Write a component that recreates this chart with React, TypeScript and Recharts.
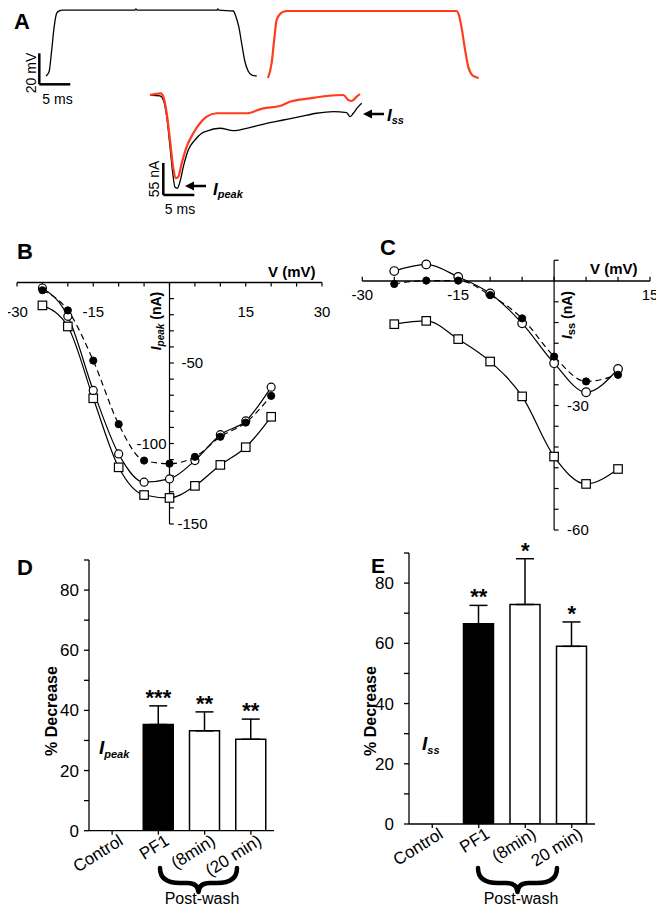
import React from "react";
import {
  Bar,
  BarChart,
  Cell,
  ErrorBar,
  Line,
  LineChart,
  ReferenceDot,
  ReferenceLine,
  XAxis,
  YAxis,
} from "recharts";

const FONT = '"Liberation Sans", Arial, Helvetica, sans-serif';
const RED = "#ff3c1e";
const INK = "#000";

// A: voltage steps (ms, mV) and evoked currents (ms, nA)
const vBlackT = [0, 0.48, 0.92, 1.29, 1.73, 2.26, 2.58, 14.35, 14.5, 14.7, 27.6, 27.7, 27.9, 30.2, 30.6, 31.1, 31.6, 32.1, 32.6, 33.2, 34.0];
const vBlackMv = [-49.0, -46.5, -32.3, -18.1, -8.4, -6.8, -6.5, -6.5, -5.8, -6.5, -6.5, -5.8, -6.5, -7.1, -10.3, -17.4, -29.0, -40.0, -45.8, -48.4, -49.0];
const vRedT = [35.8, 36.4, 36.8, 37.2, 38.0, 38.8, 66.2, 66.6, 67.0, 67.6, 68.1, 68.9, 69.8];
const vRedMv = [-50.3, -40.6, -25.8, -12.9, -8.2, -7.1, -7.1, -9.7, -17.2, -32.3, -43.0, -49.0, -50.3];
const iBlackT = [16.77, 18.39, 18.92, 19.47, 20.0, 20.44, 20.81, 21.18, 21.61, 22.15, 22.95, 24.03, 25.11, 26.18, 28.06, 30.21, 32.37, 35.6, 38.27, 40.97, 43.66, 46.34, 48.5, 49.03, 49.56, 50.37, 50.92];
const iBlackNa = [0, -1.7, -8.6, -37.3, -88.8, -134.5, -158.6, -160.3, -149.0, -123.2, -94.5, -77.3, -65.8, -61.3, -57.2, -61.3, -57.2, -48.6, -43.0, -37.3, -31.4, -28.7, -30.4, -37.3, -31.4, -20.1, -14.3];
const iRedT = [16.77, 18.5, 18.92, 19.47, 20.0, 20.53, 20.97, 21.34, 21.89, 22.69, 23.76, 24.84, 25.92, 27.53, 30.21, 32.37, 35.05, 37.74, 39.35, 42.58, 45.27, 47.95, 48.76, 49.31, 50.11, 50.65];
const iRedNa = [0, 2.9, -2.9, -31.4, -77.3, -125.9, -143.1, -140.4, -117.4, -88.8, -65.8, -48.6, -37.3, -31.4, -31.4, -31.4, -22.9, -18.9, -11.5, -5.7, -1.7, 0, -8.6, -10.3, -2.9, 1.7];

// B: I-V of peak current
const bVolts = [-25, -20, -15, -10, -5, 0, 5, 10, 15, 20];
const bOpen = [-3.4, -21, -67, -106.5, -124, -122, -110.6, -94.5, -86, -65];
const bFilled = [-4.8, -17.3, -48.5, -88, -110.6, -112.5, -108.3, -95.8, -87, -70.4];
const bSquare = [-14.2, -27.3, -71.9, -114.8, -132, -133.8, -126.3, -113.3, -102.3, -83.4];
const bXTicks = [-30, -25, -20, -15, -10, -5, 0, 5, 10, 15, 20, 25, 30];
const bXLabels = [-30, -15, 15, 30];
const bYTicks = [-10, -20, -30, -40, -50, -60, -70, -80, -90, -100, -110, -120, -130, -140, -150];

// C: I-V of steady-state current
const cVolts = [-25, -20, -15, -10, -5, 0, 5, 10];
const cOpen = [2.4, 4.0, 1.0, -3.0, -10.2, -19.8, -26.8, -21.2];
const cFilled = [-0.7, 0.1, 0.1, -3.4, -9.0, -18.2, -24.2, -22.6];
const cSquare = [-10.4, -9.6, -14.0, -19.4, -27.8, -42.3, -48.9, -45.3];
const cXTicks = [-30, -25, -20, -15, -10, -5, 0, 5, 10, 15];
const cXLabels = [-30, -15, 15];
const cYTicks = [5, -5, -10, -15, -20, -25, -30, -35, -40, -45, -50, -55, -60];

// D / E: % decrease
const dCats = ["Control", "PF1", "(8min)", "(20 min)"];
const dVals = [0, 35.3, 33.2, 30.4];
const dErr = [0, 6.2, 6.3, 6.7];
const dStars = ["", "***", "**", "**"];
const eCats = ["Control", "PF1", "(8min)", "20 min)"];
const eVals = [0, 66.5, 72.9, 59.0];
const eErr = [0, 6.1, 15.2, 8.1];
const eStars = ["", "**", "*", "*"];
const pctTicks = [0, 10, 20, 30, 40, 50, 60, 70, 80, 90];

const zip = (t: number[], y: number[], key: string) =>
  t.map((tt, i) => ({ t: tt, [key]: y[i] }));

const vBlack = zip(vBlackT, vBlackMv, "mv");
const vRed = zip(vRedT, vRedMv, "mv");
const iBlack = zip(iBlackT, iBlackNa, "na");
const iRed = zip(iRedT, iRedNa, "na");

const bRows = bVolts.map((v, i) => ({ v, open: bOpen[i], filled: bFilled[i], sq: bSquare[i] }));
const cRows = cVolts.map((v, i) => ({ v, open: cOpen[i], filled: cFilled[i], sq: cSquare[i] }));
const dRows = dCats.map((cat, i) => ({ cat, val: dVals[i], err: [0, dErr[i]] }));
const eRows = eCats.map((cat, i) => ({ cat, val: eVals[i], err: [0, eErr[i]] }));

function SquareDot(props: any) {
  const { cx, cy, index } = props;
  if (cx == null || cy == null) return <g key={`sq-${index}`} />;
  return (
    <rect
      key={`sq-${index}`}
      x={cx - 4.25}
      y={cy - 4.25}
      width={8.5}
      height={8.5}
      fill="#fff"
      stroke={INK}
      strokeWidth={1.2}
    />
  );
}

function CatTick(props: any) {
  const { x, y, payload } = props;
  return (
    <g transform={`translate(${x + 12},${y + 7})`}>
      <text textAnchor="end" transform="rotate(-32)" fontSize={17} fill={INK}>
        {payload.value}
      </text>
    </g>
  );
}

const seg = (x0: number, y0: number, x1: number, y1: number, key: string) => (
  <ReferenceLine
    key={key}
    segment={[
      { x: x0, y: y0 },
      { x: x1, y: y1 },
    ]}
    stroke={INK}
    strokeWidth={1.2}
  />
);

const tickLabel = (x: number, y: number, text: string, position: any, offset: number, key: string) => (
  <ReferenceDot
    key={key}
    x={x}
    y={y}
    r={1}
    fill="none"
    stroke="none"
    label={{ value: text, position, offset, fontSize: 15, fill: INK }}
  />
);

function BarPanel({
  rows,
  stars,
  width,
  height,
  yWidth,
  xHeight,
  tickMargin,
  margin,
}: {
  rows: any[];
  stars: string[];
  width: number;
  height: number;
  yWidth: number;
  xHeight: number;
  tickMargin: number;
  margin: any;
}) {
  return (
    <BarChart width={width} height={height} data={rows} margin={margin}>
      <XAxis
        dataKey="cat"
        stroke={INK}
        strokeWidth={1.3}
        tickSize={4}
        interval={0}
        height={xHeight}
        tick={<CatTick />}
      />
      <YAxis
        type="number"
        domain={[0, 90]}
        allowDataOverflow
        ticks={pctTicks}
        interval={0}
        width={yWidth}
        stroke={INK}
        strokeWidth={1.3}
        tickSize={5}
        tickMargin={tickMargin}
        tick={{ fill: INK, fontSize: 17 }}
        tickFormatter={(v) => (Number(v) % 20 === 0 ? String(v) : "")}
      />
      <Bar dataKey="val" barSize={30} stroke={INK} strokeWidth={1.5} isAnimationActive={false}>
        {rows.map((r, i) => (
          <Cell key={i} fill={r.cat === "PF1" ? INK : "#fff"} />
        ))}
        <ErrorBar dataKey="err" width={9} stroke={INK} strokeWidth={1.5} />
      </Bar>
      {rows.map((r, i) =>
        stars[i] ? (
          <ReferenceDot
            key={`st-${i}`}
            x={r.cat}
            y={r.val + r.err[1]}
            r={1}
            fill="none"
            stroke="none"
            label={{ value: stars[i], position: "top", offset: 0, fontSize: 22, fontWeight: "bold", fill: INK }}
          />
        ) : null
      )}
    </BarChart>
  );
}

function Brace({ x0, x1 }: { x0: number; x1: number }) {
  const m = (x0 + x1) / 2;
  const d = `M${x0},868 C${x0},879 ${x0 + 8},883 ${x0 + 20},883 L${m - 11},883 C${m - 4},883 ${m - 0.5},886 ${m},892 C${m + 0.5},886 ${m + 4},883 ${m + 11},883 L${x1 - 20},883 C${x1 - 8},883 ${x1},879 ${x1},868`;
  return <path d={d} fill="none" stroke={INK} strokeWidth={4.5} strokeLinejoin="round" strokeLinecap="round" />;
}

export default function App() {
  const abs = (left: number, top: number): React.CSSProperties => ({ position: "absolute", left, top });
  return (
    <div style={{ position: "relative", width: 664, height: 912, background: "#fff", fontFamily: FONT, margin: -8 }}>
      {/* A: traces */}
      <div style={abs(0, 0)}>
        <LineChart width={664} height={220} margin={{ top: 0, right: 0, bottom: 0, left: 0 }}>
          <XAxis type="number" dataKey="t" domain={[-7.42, 99.68]} allowDataOverflow hide />
          <YAxis yAxisId="v" type="number" domain={[-141.94, 0]} allowDataOverflow hide />
          <YAxis yAxisId="i" type="number" domain={[-214.8, 163.2]} allowDataOverflow hide />
          <Line yAxisId="v" data={vBlack} dataKey="mv" type="monotone" stroke={INK} strokeWidth={1.3} dot={false} isAnimationActive={false} />
          <Line yAxisId="v" data={vRed} dataKey="mv" type="monotone" stroke={RED} strokeWidth={2.2} dot={false} isAnimationActive={false} />
          <Line yAxisId="i" data={iBlack} dataKey="na" type="monotone" stroke={INK} strokeWidth={1.3} dot={false} isAnimationActive={false} />
          <Line yAxisId="i" data={iRed} dataKey="na" type="monotone" stroke={RED} strokeWidth={2.2} dot={false} isAnimationActive={false} />
          {/* scale bars: 20 mV / 5 ms and 55 nA / 5 ms */}
          <ReferenceLine yAxisId="v" segment={[{ x: -1.08, y: -34.4 }, { x: -1.08, y: -54.4 }]} stroke={INK} strokeWidth={2.5} />
          <ReferenceLine yAxisId="v" segment={[{ x: -1.08, y: -54.4 }, { x: 3.92, y: -54.4 }]} stroke={INK} strokeWidth={2.5} />
          <ReferenceLine yAxisId="i" segment={[{ x: 18.92, y: -116.8 }, { x: 18.92, y: -171.8 }]} stroke={INK} strokeWidth={2.5} />
          <ReferenceLine yAxisId="i" segment={[{ x: 18.92, y: -171.8 }, { x: 23.92, y: -171.8 }]} stroke={INK} strokeWidth={2.5} />
        </LineChart>
      </div>

      {/* B: peak I-V */}
      <div style={abs(0, 230)}>
        <LineChart width={340} height={312} data={bRows} margin={{ top: 49.3, right: 18, bottom: 18, left: 17 }}>
          <XAxis type="number" dataKey="v" domain={[-30, 30]} allowDataOverflow hide />
          <YAxis type="number" domain={[-150, 2]} allowDataOverflow hide />
          <ReferenceLine y={0} stroke={INK} strokeWidth={1.3} />
          {seg(0, 0, 0, -150, "bya")}
          {bXTicks.map((v) => seg(v, 0, v, -2.5, `bxt${v}`))}
          {bYTicks.map((y) => seg(0, y, 0.85, y, `byt${y}`))}
          <Line dataKey="sq" type="monotone" stroke={INK} strokeWidth={1.2} dot={SquareDot} isAnimationActive={false} />
          <Line dataKey="open" type="monotone" stroke={INK} strokeWidth={1.2} dot={{ r: 4, fill: "#fff", stroke: INK, strokeWidth: 1.2 }} isAnimationActive={false} />
          <Line dataKey="filled" type="monotone" stroke={INK} strokeWidth={1.2} strokeDasharray="6 4" dot={{ r: 3.6, fill: INK, stroke: INK, strokeWidth: 1, strokeDasharray: "" }} isAnimationActive={false} />
          {bXLabels.map((v) => tickLabel(v, 0, String(v), "bottom", 22.8, `bxl${v}`))}
          {tickLabel(0, -50, "-50", "right", 11, "byl50")}
          {tickLabel(0, -100, "-100", "left", 2, "byl100")}
          {tickLabel(0, -150, "-150", "right", 7, "byl150")}
        </LineChart>
      </div>

      {/* C: steady-state I-V */}
      <div style={abs(330, 230)}>
        <LineChart width={334} height={320} data={cRows} margin={{ top: 28.2, right: 14, bottom: 20, left: 32.3 }}>
          <XAxis type="number" dataKey="v" domain={[-30, 15]} allowDataOverflow hide />
          <YAxis type="number" domain={[-60, 5.5]} allowDataOverflow hide />
          <ReferenceLine y={0} stroke={INK} strokeWidth={1.3} />
          {seg(0, 5, 0, -60, "cya")}
          {cXTicks.map((v) => seg(v, 0, v, 1, `cxt${v}`))}
          {cYTicks.map((y) => seg(0, y, 0.7, y, `cyt${y}`))}
          <Line dataKey="sq" type="monotone" stroke={INK} strokeWidth={1.2} dot={SquareDot} isAnimationActive={false} />
          <Line dataKey="open" type="monotone" stroke={INK} strokeWidth={1.2} dot={{ r: 4.3, fill: "#fff", stroke: INK, strokeWidth: 1.2 }} isAnimationActive={false} />
          <Line dataKey="filled" type="monotone" stroke={INK} strokeWidth={1.2} strokeDasharray="6 4" dot={{ r: 3.6, fill: INK, stroke: INK, strokeWidth: 1, strokeDasharray: "" }} isAnimationActive={false} />
          {cXLabels.map((v) => tickLabel(v, 0, String(v), "bottom", 7.3, `cxl${v}`))}
          {tickLabel(0, -30, "-30", "right", 12, "cyl30")}
          {tickLabel(0, -60, "-60", "right", 12, "cyl60")}
        </LineChart>
      </div>

      {/* D and E: bar charts */}
      <div style={abs(0, 550)}>
        <BarPanel rows={dRows} stars={dStars} width={340} height={362} yWidth={89} xHeight={81.3} tickMargin={5} margin={{ top: 10, right: 66, bottom: 0, left: 0 }} />
      </div>
      <div style={abs(330, 530)}>
        <BarPanel rows={eRows} stars={eStars} width={334} height={382} yWidth={79} xHeight={88} tickMargin={10} margin={{ top: 23, right: 69, bottom: 0, left: 0 }} />
      </div>

      {/* annotations */}
      <svg width={664} height={912} style={{ position: "absolute", left: 0, top: 0, pointerEvents: "none" }} fontFamily={FONT}>
        <g fontWeight="bold" fontSize={22} fill={INK}>
          <text x={14} y={29}>A</text>
          <text x={17} y={259}>B</text>
          <text x={380} y={255}>C</text>
          <text x={17} y={575}>D</text>
          <text x={371} y={573} fontSize={21}>E</text>
        </g>
        <g fontSize={14} fill={INK}>
          <text transform="translate(36,73) rotate(-90)" textAnchor="middle">20 mV</text>
          <text x={57.5} y={104} textAnchor="middle">5 ms</text>
          <text transform="translate(159,179) rotate(-90)" textAnchor="middle">55 nA</text>
          <text x={180} y={214} textAnchor="middle">5 ms</text>
        </g>
        <line x1={206} y1={186} x2={192} y2={186} stroke={INK} strokeWidth={2.5} />
        <polygon points="185,186 194,181.5 194,190.5" fill={INK} />
        <text x={213} y={195} fontSize={17} fontWeight="bold" fontStyle="italic" fill={INK}>
          I<tspan fontSize={11} dy={3}>peak</tspan>
        </text>
        <line x1={384} y1={114} x2={370} y2={114} stroke={INK} strokeWidth={2.5} />
        <polygon points="363,114 372,109.5 372,118.5" fill={INK} />
        <text x={387} y={121} fontSize={17} fontWeight="bold" fontStyle="italic" fill={INK}>
          I<tspan fontSize={11} dy={3}>ss</tspan>
        </text>

        <text x={268} y={277} fontSize={15} fontWeight="bold" fill={INK}>V (mV)</text>
        <text transform="translate(161,321) rotate(-90)" textAnchor="middle" fontSize={14} fontWeight="bold" fill={INK}>
          <tspan fontStyle="italic">I</tspan>
          <tspan fontStyle="italic" fontSize={10} dy={3}>peak</tspan>
          <tspan dy={-3}> (nA)</tspan>
        </text>
        <text x={590} y={274} fontSize={15} fontWeight="bold" fill={INK}>V (mV)</text>
        <text transform="translate(572,315) rotate(-90)" textAnchor="middle" fontSize={14} fontWeight="bold" fill={INK}>
          <tspan fontStyle="italic">I</tspan>
          <tspan fontSize={11} dy={3}>ss</tspan>
          <tspan dy={-3}> (nA)</tspan>
        </text>

        <g fontSize={16} fontWeight="bold" fill={INK} textAnchor="middle">
          <text transform="translate(57,711) rotate(-90)">% Decrease</text>
          <text transform="translate(376,711) rotate(-90)">% Decrease</text>
        </g>
        <text x={99} y={754} fontSize={19} fontWeight="bold" fontStyle="italic" fill={INK}>
          I<tspan fontSize={11} dy={4}>peak</tspan>
        </text>
        <text x={422} y={750} fontSize={19} fontWeight="bold" fontStyle="italic" fill={INK}>
          I<tspan fontSize={11} dy={4}>ss</tspan>
        </text>

        <Brace x0={160} x1={237} />
        <Brace x0={478} x1={557} />
        <g fontSize={16} fill={INK} textAnchor="middle">
          <text x={202} y={904}>Post-wash</text>
          <text x={521} y={904}>Post-wash</text>
        </g>
      </svg>
    </div>
  );
}
